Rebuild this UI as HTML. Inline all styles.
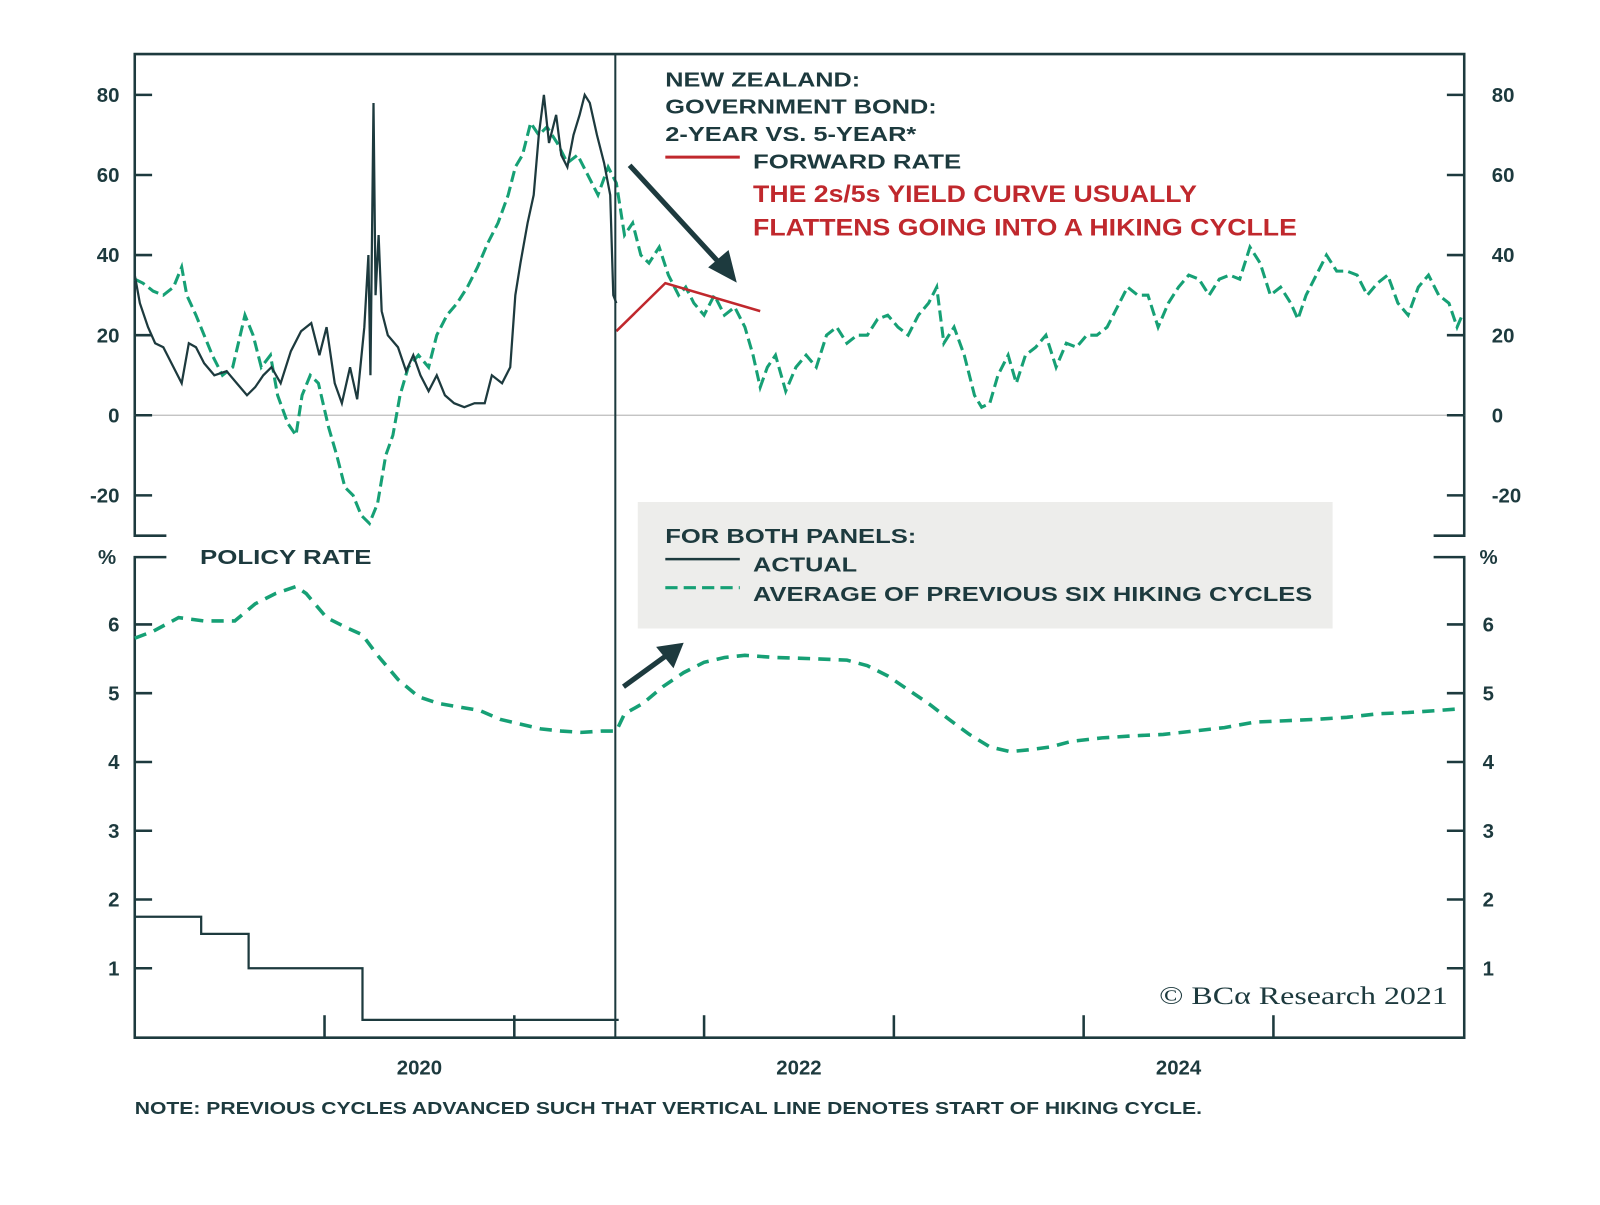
<!DOCTYPE html>
<html><head><meta charset="utf-8"><style>
html,body{margin:0;padding:0;background:#fff;}
svg{display:block;}
text{font-family:"Liberation Sans",Arial,sans-serif;font-weight:bold;fill:#1d3a3e;}
</style></head><body>
<svg id="chart" width="1600" height="1205" viewBox="0 0 1568 1181" xmlns="http://www.w3.org/2000/svg">
<g id="frame" stroke="#1d3a3e" stroke-width="2.5" fill="none">
  <path d="M163,525 H132 V53 H1435 V525 H1405"/>
  <path d="M163,546 H132 V1017 H1435 V546 H1405"/>
</g>
<line x1="132" x2="1435" y1="407" y2="407" stroke="#bbb" stroke-width="1.2"/>
<rect x="625" y="492" width="681" height="124" fill="#ededeb"/>
<g id="axes"></g>
<g id="series"></g>
<line x1="603" x2="603" y1="53" y2="1017" stroke="#1d3a3e" stroke-width="2"/>
<g>
  <line x1="617" y1="162" x2="708" y2="261" stroke="#1d3a3e" stroke-width="5"/>
  <polygon points="722,277 694,262 714,245" fill="#1d3a3e"/>
</g>
<g>
  <line x1="611" y1="673" x2="655" y2="641" stroke="#1d3a3e" stroke-width="5"/>
  <polygon points="670,630 660,655 643,634" fill="#1d3a3e"/>
</g>
<g font-size="20">
  <text x="652" y="85" textLength="191" lengthAdjust="spacingAndGlyphs">NEW ZEALAND:</text>
  <text x="652" y="111" textLength="266" lengthAdjust="spacingAndGlyphs">GOVERNMENT BOND:</text>
  <text x="652" y="138" textLength="246" lengthAdjust="spacingAndGlyphs">2-YEAR VS. 5-YEAR*</text>
</g>
<g>
  <line x1="652" x2="725" y1="154" y2="154" stroke="#c0282d" stroke-width="3"/>
  <text x="738" y="165" font-size="20" textLength="204" lengthAdjust="spacingAndGlyphs">FORWARD RATE</text>
</g>
<g font-size="24">
  <text x="738" y="198" style="fill:#c0282d" textLength="435" lengthAdjust="spacingAndGlyphs">THE 2s/5s YIELD CURVE USUALLY</text>
  <text x="738" y="231" style="fill:#c0282d" textLength="533" lengthAdjust="spacingAndGlyphs">FLATTENS GOING INTO A HIKING CYCLLE</text>
</g>
<text x="196" y="553" font-size="20" textLength="168" lengthAdjust="spacingAndGlyphs">POLICY RATE</text>
<g font-size="20">
  <text x="652" y="532" textLength="246" lengthAdjust="spacingAndGlyphs">FOR BOTH PANELS:</text>
  <line x1="652" x2="725" y1="548" y2="548" stroke="#1d3a3e" stroke-width="2.5"/>
  <text x="738" y="560" textLength="102" lengthAdjust="spacingAndGlyphs">ACTUAL</text>
  <line x1="652" x2="725" y1="576" y2="576" stroke="#16a075" stroke-width="3" stroke-dasharray="12 6"/>
  <text x="738" y="589" textLength="548" lengthAdjust="spacingAndGlyphs">AVERAGE OF PREVIOUS SIX HIKING CYCLES</text>
</g>
<text x="1136" y="984" font-size="25" textLength="283" lengthAdjust="spacingAndGlyphs" style="font-family:'Liberation Serif',serif;font-weight:normal;fill:#1d3a3e">© BCα Research 2021</text>
<text x="132" y="1092" font-size="17" textLength="1046" lengthAdjust="spacingAndGlyphs">NOTE: PREVIOUS CYCLES ADVANCED SUCH THAT VERTICAL LINE DENOTES START OF HIKING CYCLE.</text>
</svg>
<script>
// x-positions converted to decimal years
const actualYears=[132,137,145,152,160,170,178,185,192,200,210,222,232,242,250,258,266,275,285,295,305,313,320,328,335,343,350,357,361,363,366,368,371,374,380,390,398,405,412,420,428,436,445,455,465,475,482,492,500,505,510,517,523,528,533,538,545,550,556,562,568,573,578,585,592,598,601,604].map(x=>2019+(x-132)/186);
const actualValues=[35,28,22,18,17,12,8,18,17,13,10,11,8,5,7,10,12,8,16,21,23,15,22,8,3,12,4,22,40,10,78,30,45,26,20,17,11,15,10,6,10,5,3,2,3,3,10,8,12,30,38,48,55,70,80,68,75,65,62,70,75,80,78,70,63,55,30,28];
const avgYears=[132,140,150,160,170,178,183,192,200,208,218,228,240,248,256,265,272,282,290,296,304,312,322,330,338,346,354,362,370,378,385,392,400,410,420,428,438,448,458,468,478,488,498,505,512,520,528,536,546,556,566,576,586,596,604,612,620,628,636,646,655,665,672,680,690,700,710,720,730,738,745,752,760,770,780,790,800,810,820,830,840,850,860,870,880,890,900,910,918,925,935,945,955,962,970,978,988,996,1005,1015,1025,1035,1045,1055,1065,1075,1085,1095,1105,1115,1125,1135,1145,1155,1165,1175,1185,1195,1205,1215,1225,1235,1245,1255,1265,1272,1280,1290,1300,1310,1320,1330,1340,1350,1360,1370,1380,1390,1400,1410,1420,1428,1433].map(x=>2019+(x-132)/186);
const avgValues=[34,33,31,30,32,37,30,25,20,15,10,12,25,20,12,15,5,-2,-5,5,10,8,-3,-10,-18,-20,-25,-27,-22,-10,-5,5,12,15,12,20,25,28,32,37,43,48,55,62,65,73,70,72,68,63,65,60,55,62,58,45,48,40,38,42,35,30,32,28,25,30,25,27,22,15,7,12,15,6,12,15,12,20,22,18,20,20,24,25,22,20,25,28,32,18,22,15,5,2,3,10,15,8,15,17,20,12,18,17,20,20,22,27,32,30,30,22,28,32,35,34,30,34,35,34,42,38,30,32,28,24,30,35,40,36,36,35,30,33,35,28,25,32,35,30,28,22,25];
const fwdYears=[604,652,745].map(x=>2019+(x-132)/186);
const fwdValues=[21,33,26];
const policyYears=[2019,2019.35,2019.6,2020.2,2021.55];
const policyValues=[1.75,1.5,1.0,0.25];
const policyAvgYears=[132,150,175,200,230,250,270,290,300,320,340,355,370,390,410,430,450,470,490,510,530,550,570,590,604,612,630,650,670,690,710,730,760,800,830,850,870,890,910,930,950,970,990,1010,1030,1050,1080,1110,1140,1170,1200,1230,1260,1290,1320,1350,1380,1410,1428].map(x=>2019+(x-132)/186);
const policyAvgValues=[5.8,5.9,6.1,6.05,6.05,6.3,6.45,6.55,6.45,6.1,5.95,5.85,5.55,5.2,4.95,4.85,4.8,4.75,4.62,4.55,4.48,4.45,4.43,4.45,4.45,4.7,4.85,5.1,5.3,5.45,5.52,5.55,5.52,5.5,5.48,5.4,5.25,5.05,4.85,4.62,4.4,4.22,4.15,4.18,4.22,4.3,4.35,4.38,4.4,4.45,4.5,4.58,4.6,4.62,4.65,4.7,4.72,4.75,4.77];
const topTicks=[-20,0,20,40,60,80];
const botTicks=[1,2,3,4,5,6];
const yearTicks=[2020,2021,2022,2023,2024,2025];
const yearLabels=[2020,2022,2024];

const NS="http://www.w3.org/2000/svg";
const X=t=>318+(t-2020)*186;
const YT=v=>407-v*3.925;
const YB=v=>1016.4-v*67.4;
function mk(tag,attrs,parent){const e=document.createElementNS(NS,tag);for(const k in attrs)e.setAttribute(k,attrs[k]);parent.appendChild(e);return e;}
const axes=document.getElementById('axes');
const series=document.getElementById('series');
topTicks.forEach(v=>{
  const y=YT(v);
  let l=mk('path',{d:`M132,${y}H149M1418,${y}H1435`,stroke:'#1d3a3e','stroke-width':2.5},axes);
  
  
  let t=mk('text',{x:117,y:y+7,'text-anchor':'end','font-size':20},axes);t.textContent=v;
  
  
  t=mk('text',{x:1462,y:y+7,'font-size':20},axes);t.textContent=v;
  
  
});
botTicks.forEach(v=>{
  const y=YB(v);
  let l=mk('path',{d:`M132,${y}H149M1418,${y}H1435`,stroke:'#1d3a3e','stroke-width':2.5},axes);
  
  
  let t=mk('text',{x:117,y:y+7,'text-anchor':'end','font-size':20},axes);t.textContent=v;
  
  
  t=mk('text',{x:1453,y:y+7,'font-size':20},axes);t.textContent=v;
  
  
});
[[96,553],[1450,553]].forEach(p=>{let t=mk('text',{x:p[0],y:p[1],'font-size':20},axes);t.textContent='%';
  
  });
yearTicks.forEach(yr=>{
  let l=mk('line',{x1:X(yr),x2:X(yr),y1:995,y2:1017,stroke:'#1d3a3e','stroke-width':2.5},axes);
  
  
});
yearLabels.forEach(yr=>{
  let t=mk('text',{x:X(yr+0.5),y:1053,'text-anchor':'middle','font-size':20},axes);t.textContent=yr;
  
  
});
function line(xs,vs,Y){return xs.map((t,i)=>(i?'L':'M')+X(t).toFixed(1)+','+Y(vs[i]).toFixed(1)).join('');}
let p;
p=mk('path',{d:line(avgYears,avgValues,YT),fill:'none',stroke:'#16a075','stroke-width':3,'stroke-dasharray':'11 5'},series);


p=mk('path',{d:line(actualYears,actualValues,YT),fill:'none',stroke:'#1d3a3e','stroke-width':2.2},series);


p=mk('path',{d:line(fwdYears,fwdValues,YT),fill:'none',stroke:'#c0282d','stroke-width':2.5},series);


p=mk('path',{d:line(policyAvgYears,policyAvgValues,YB),fill:'none',stroke:'#16a075','stroke-width':3.5,'stroke-dasharray':'12 8'},series);


let d='';
policyValues.forEach((v,i)=>{d+=(i?'L':'M')+X(policyYears[i])+','+YB(v)+'L'+X(policyYears[i+1])+','+YB(v);});
p=mk('path',{d:d,fill:'none',stroke:'#1d3a3e','stroke-width':2.2},series);


</script>
</body></html>
